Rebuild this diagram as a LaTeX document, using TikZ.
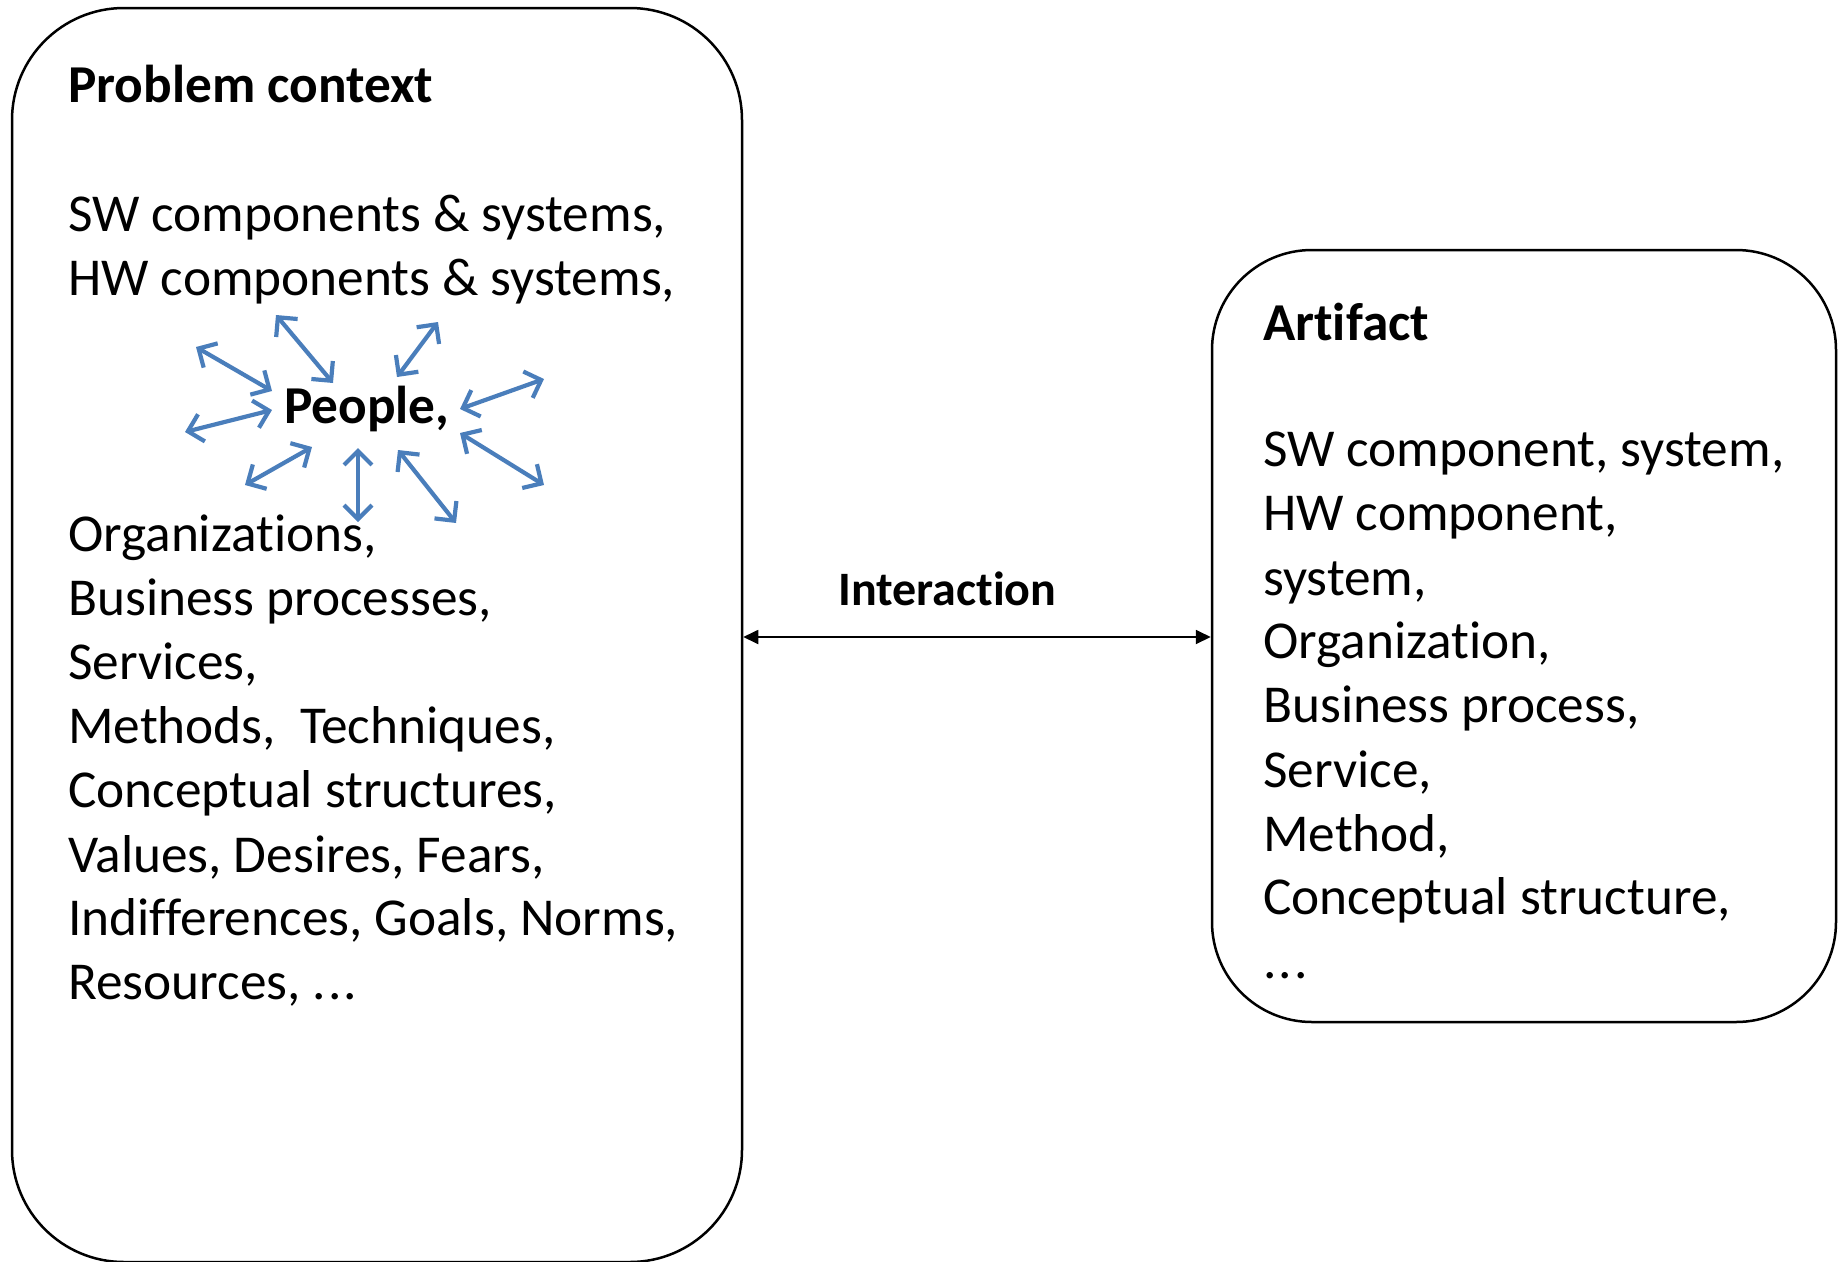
\documentclass[tikz,border=0pt]{standalone}
\usepackage{fontspec}
\setmainfont{Carlito}[Ligatures=NoCommon]
\usetikzlibrary{arrows.meta}
\definecolor{arrowblue}{RGB}{74,126,187}
\begin{document}
\begin{tikzpicture}[x=1pt,y=-1pt,
  box/.style={draw=black, line width=2.5pt, inner sep=0pt},
  txt/.style={anchor=base west, inner sep=0pt, font=\fontsize{53.3}{64}\selectfont},
  ttl/.style={anchor=base west, inner sep=0pt, font=\fontsize{53.3}{64}\selectfont\bfseries},
  spoke/.style={draw=arrowblue, line width=4.2pt, >={Straight Barb[length=14pt,width=28pt]}, <->},
  link/.style={draw=black, line width=1.8pt, >={Triangle[length=15pt,width=14pt]}, <->}
]
\useasboundingbox (0,0) rectangle (1847,1261);

% boxes
\node[box, rounded corners=112pt, minimum width=730pt, minimum height=1254pt] (lbox) at (377,635) {};
\node[box, rounded corners=100pt, minimum width=624pt, minimum height=772pt] (rbox) at (1524,636) {};

% left box texts
\node[ttl] (ptitle) at (68,102) {Problem context};
\node[txt] (l1) at (68,231) {SW components \& systems,};
\node[txt] (l2) at (68,295) {HW components \& systems,};
\node[ttl] (people) at (284,423) {People,};
\node[txt] (l3) at (68,551) {Organizations,};
\node[txt] (l4) at (68,615) {Business processes,};
\node[txt] (l5) at (68,679) {Services,};
\node[txt] (l6) at (68,743) {Methods,\ \ Techniques,};
\node[txt] (l7) at (68,807) {Conceptual structures,};
\node[txt] (l8) at (68,872) {Values, Desires, Fears,};
\node[txt] (l9) at (68,935) {Indifferences, Goals, Norms,};
\node[txt] (l10) at (68,999) {Resources, .\kern2pt.\kern2pt.};

% right box texts
\node[ttl] (atitle) at (1263,340) {Artifact};
\node[txt] (r1) at (1263,466) {SW component, system,};
\node[txt] (r2) at (1263,530) {HW component,};
\node[txt] (r3) at (1263,595) {system,};
\node[txt] (r4) at (1263,658) {Organization,};
\node[txt] (r5) at (1263,722) {Business process,};
\node[txt] (r6) at (1263,787) {Service,};
\node[txt] (r7) at (1263,851) {Method,};
\node[txt] (r8) at (1263,914) {Conceptual structure,};
\node[txt] (r9) at (1263,978) {.\kern2pt.\kern2pt.};

% interaction
\node[ttl, font=\fontsize{48}{56}\selectfont\bfseries] (inter) at (838,605) {Interaction};
\coordinate (iy) at (0,637);
\draw[link] (lbox.east |- iy) -- (rbox.west |- iy);

% spokes around People
\coordinate (s1a) at (196,347); \coordinate (s1b) at (272,391);
\coordinate (s2a) at (276,315); \coordinate (s2b) at (333,383);
\coordinate (s3a) at (438,322); \coordinate (s3b) at (397,377);
\coordinate (s4a) at (544,379); \coordinate (s4b) at (460,409);
\coordinate (s5a) at (185,432); \coordinate (s5b) at (272,410);
\coordinate (s6a) at (460,433); \coordinate (s6b) at (544,485);
\coordinate (s7a) at (245,485); \coordinate (s7b) at (312,447);
\coordinate (s8a) at (358,448); \coordinate (s8b) at (358,522);
\coordinate (s9a) at (398,450); \coordinate (s9b) at (456,523);
\draw[spoke] (s1a) -- (s1b);
\draw[spoke] (s2a) -- (s2b);
\draw[spoke] (s3a) -- (s3b);
\draw[spoke] (s4a) -- (s4b);
\draw[spoke] (s5a) -- (s5b);
\draw[spoke] (s6a) -- (s6b);
\draw[spoke] (s7a) -- (s7b);
\draw[spoke] (s8a) -- (s8b);
\draw[spoke] (s9a) -- (s9b);
\end{tikzpicture}
\end{document}
